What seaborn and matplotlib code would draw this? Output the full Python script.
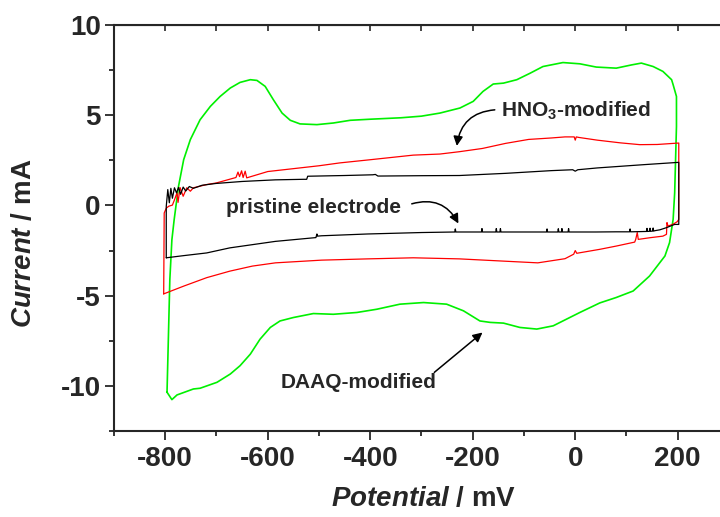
import pandas as pd
import matplotlib
matplotlib.use("Agg")
import matplotlib.pyplot as plt
import seaborn as sns

# Cyclic voltammograms: anodic branch (left -> right) followed by cathodic branch (right -> left)
pristine_x = [-798, -798, -795, -792, -789, -786, -782, -778, -774, -770, -765, -760, -753, -745,
              -728, -701, -650, -585, -530, -524, -522, -450, -395, -390, -385, -300, -226, -136,
              -47, -5, 0, 5, 43, 133, 202,
              202, 194, 178, 165, 155, 153, 152, 151, 147, 146, 145, 141, 140, 139, 125, 108, 107,
              106, 80, 40, 0, -12, -13, -14, -25, -26, -27, -32, -33, -34, -54, -55, -56, -100,
              -145, -146, -147, -153, -154, -155, -181, -182, -183, -233, -234, -235, -300, -405,
              -495, -503, -504, -506, -585, -674, -719, -764, -798]
pristine_y = [-2.90, -0.05, 0.88, 0.15, 0.95, 0.40, 0.98, 0.70, 1.00, 0.62, 1.02, 0.80, 1.05, 0.95,
              1.12, 1.22, 1.33, 1.42, 1.45, 1.45, 1.62, 1.66, 1.70, 1.72, 1.63, 1.65, 1.66, 1.78,
              1.93, 1.98, 1.90, 1.98, 2.08, 2.26, 2.39,
              -1.05, -1.05, -1.23, -1.35, -1.40, -1.42, -1.25, -1.42, -1.43, -1.26, -1.43, -1.44,
              -1.27, -1.44, -1.45, -1.46, -1.30, -1.46, -1.46, -1.47, -1.47, -1.47, -1.28, -1.47,
              -1.47, -1.28, -1.47, -1.47, -1.29, -1.47, -1.47, -1.30, -1.47, -1.47, -1.47, -1.28,
              -1.47, -1.47, -1.28, -1.47, -1.47, -1.28, -1.47, -1.47, -1.30, -1.47, -1.50, -1.58,
              -1.68, -1.70, -1.58, -1.78, -1.99, -2.35, -2.63, -2.78, -2.90]

hno3_x = [-803, -802, -798, -793, -786, -782, -777, -775, -771, -765, -758, -751, -745, -719, -700,
          -662, -658, -655, -651, -648, -644, -641, -600, -500, -459, -405, -316, -264, -226, -181,
          -136, -91, -47, -20, -2, 0, 2, 7, 43, 88, 126, 160, 202,
          202, 199, 190, 181, 179, 178, 171, 145, 123, 121, 118, 116, 80, 48, 3, 0, -3, -20,
          -73, -136, -226, -316, -405, -495, -585, -630, -674, -719, -764, -803]
hno3_y = [-4.90, -0.42, -0.15, -0.04, 0.02, 0.31, 0.70, 0.17, 0.99, 0.51, 0.98, 0.79, 0.98, 1.16,
          1.25, 1.55, 1.85, 1.60, 1.92, 1.55, 1.90, 1.53, 1.88, 2.20, 2.36, 2.52, 2.79, 2.85, 2.98,
          3.16, 3.44, 3.66, 3.74, 3.80, 3.80, 3.62, 3.80, 3.77, 3.62, 3.47, 3.37, 3.38, 3.46,
          -0.77, -0.90, -1.05, -1.14, -0.95, -1.60, -1.70, -1.79, -1.88, -1.50, -1.88, -2.03,
          -2.25, -2.43, -2.65, -2.50, -2.70, -2.95, -3.18, -3.09, -2.96, -2.90, -2.96,
          -3.03, -3.18, -3.36, -3.64, -4.00, -4.47, -4.90]

daaq_x = [-796.5, -791, -787, -782.5, -774, -764, -751, -732, -712, -693, -673, -654, -634, -621,
          -605, -589, -572, -556, -537, -504, -472, -439, -400, -340, -300, -264, -225, -199, -180,
          -160, -140, -114, -88, -63, -24, 9, 41, 80, 110, 129, 152, 171, 188, 191, 197.5, 197.5,
          194, 191, 184, 175,
          145, 113, 80, 48, 9, -17, -43, -75, -108, -140, -166, -186, -218, -251, -296, -342, -387,
          -426, -472, -511, -550, -576, -595, -615, -634, -654, -673, -699, -732, -745, -777, -787,
          -796.5]
daaq_y = [-10.35, -4.1, -1.9, -0.77, 1.07, 2.54, 3.65, 4.75, 5.49, 6.04, 6.51, 6.82, 6.97, 6.93,
          6.60, 5.86, 5.12, 4.72, 4.52, 4.48, 4.57, 4.72, 4.78, 4.86, 4.95, 5.12, 5.40, 5.77, 6.32,
          6.73, 6.78, 6.97, 7.33, 7.70, 7.92, 7.85, 7.67, 7.61, 7.79, 7.89, 7.70, 7.43, 6.97, 6.69,
          6.04, 4.38, 0.70, -0.77, -2.06, -2.80,
          -3.91, -4.74, -5.10, -5.40, -5.93, -6.30, -6.67, -6.85, -6.76, -6.52, -6.48, -6.40,
          -5.84, -5.47, -5.38, -5.47, -5.75, -5.93, -6.03, -5.99, -6.21, -6.40, -6.76, -7.41,
          -8.24, -8.88, -9.34, -9.80, -10.13, -10.17, -10.50, -10.76, -10.35]

x_ticks = [-800, -600, -400, -200, 0, 200]
y_ticks = [-10, -5, 0, 5, 10]

sns.set_style("ticks")
plt.rcParams["font.family"] = ["Liberation Sans", "DejaVu Sans"]
plt.rcParams["font.weight"] = "bold"
plt.rcParams["axes.labelweight"] = "bold"
plt.rcParams["axes.unicode_minus"] = False
plt.rcParams["mathtext.fontset"] = "custom"
plt.rcParams["mathtext.rm"] = "Liberation Sans:bold"
plt.rcParams["mathtext.it"] = "Liberation Sans:italic:bold"
plt.rcParams["mathtext.bf"] = "Liberation Sans:bold"
plt.rcParams["mathtext.default"] = "rm"

frames = []
for name, xs, ys in [("pristine", pristine_x, pristine_y),
                     ("HNO3", hno3_x, hno3_y),
                     ("DAAQ", daaq_x, daaq_y)]:
    frames.append(pd.DataFrame({"Potential": xs, "Current": ys, "Sample": name}))
df = pd.concat(frames, ignore_index=True)

fig = plt.figure(figsize=(7.2, 5.17), dpi=100)
ax = fig.add_axes([0.1583, 0.1663, 0.8542, 0.7853])

styles = {"DAAQ": ("#00f000", 1.2), "HNO3": ("#ff0000", 0.9), "pristine": ("black", 0.9)}
for name in ["DAAQ", "HNO3", "pristine"]:
    color, lw = styles[name]
    sns.lineplot(data=df[df["Sample"] == name], x="Potential", y="Current",
                 sort=False, estimator=None, color=color, lw=lw, ax=ax)

ax.set_xlim(-900, 300)
ax.set_ylim(-12.5, 10)
ax.set_xticks(x_ticks)
ax.set_xticks([-900, -700, -500, -300, -100, 100, 300], minor=True)
ax.set_yticks(y_ticks)
ax.set_yticks([-12.5, -7.5, -2.5, 2.5, 7.5], minor=True)
ax.set_yticklabels([str(t) for t in y_ticks])
ax.tick_params(which="major", direction="out", length=6.5, width=1.3, labelsize=20)
ax.tick_params(which="minor", direction="out", length=3.6, width=1.3)
ax.tick_params(axis="x", which="major", pad=4)
ax.tick_params(axis="y", which="major", pad=3)
for sp in ax.spines.values():
    sp.set_linewidth(1.5)

top = ax.secondary_xaxis("top")
top.set_xticks(list(range(-900, 301, 100)))
top.set_xticklabels([])
top.tick_params(direction="in", length=4, width=1.2)

ax.set_xlabel(r"$\mathit{Potential}$ / mV", fontsize=20)
ax.set_ylabel(r"$\mathit{Current}$ / mA", fontsize=20)
ax.xaxis.set_label_coords(0.503, -0.135)
ax.yaxis.set_label_coords(-0.125, 0.462)

arrow = dict(arrowstyle="-|>", color="black", lw=1.1, mutation_scale=14, shrinkA=0, shrinkB=0)
ax.text(-144, 4.94, r"HNO$_3$-modified", fontsize=15, ha="left", va="baseline")
ax.annotate("", xy=(-231, 3.3), xytext=(-157, 5.3),
            arrowprops=dict(arrow, connectionstyle="arc3,rad=0.4"))
ax.text(-681, -0.40, "pristine electrode", fontsize=15, ha="left", va="baseline")
ax.annotate("", xy=(-228, -1.0), xytext=(-319, 0.09),
            arrowprops=dict(arrow, connectionstyle="arc3,rad=-0.4"))
ax.text(-574, -10.12, "DAAQ-modified", fontsize=15, ha="left", va="baseline")
ax.annotate("", xy=(-181, -7.04), xytext=(-275, -9.25), arrowprops=arrow)

fig.savefig("out.png", dpi=100)
